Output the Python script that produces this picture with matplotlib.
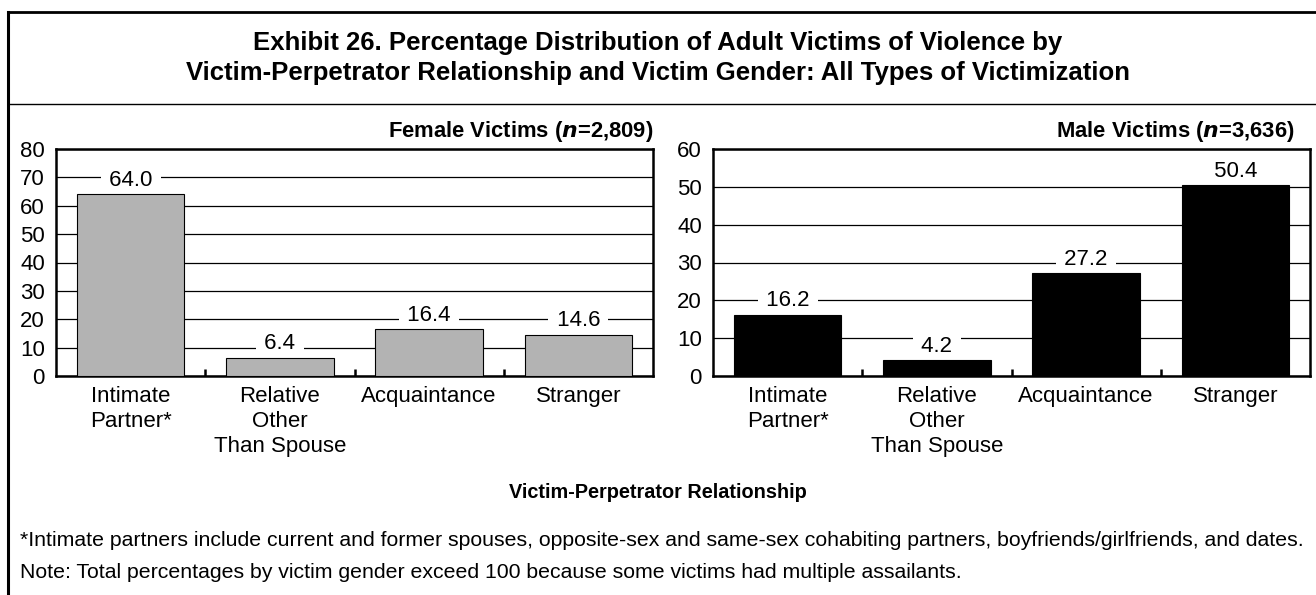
import matplotlib.pyplot as plt
from matplotlib.lines import Line2D

plt.rcParams['font.family'] = ['Liberation Sans', 'DejaVu Sans']

# Data
categories = ['Intimate\nPartner*', 'Relative\nOther\nThan Spouse', 'Acquaintance', 'Stranger']
female_values = [64.0, 6.4, 16.4, 14.6]
male_values = [16.2, 4.2, 27.2, 50.4]
female_ticks = [0, 10, 20, 30, 40, 50, 60, 70, 80]
male_ticks = [0, 10, 20, 30, 40, 50, 60]

W, H = 1316, 595
fig = plt.figure(figsize=(W / 100, H / 100), dpi=100)


def fx(px):
    return px / W


def fy(py):
    return 1 - py / H


# Outer frame: top border, left border, title separator
fig.add_artist(Line2D([fx(8), 1], [fy(12), fy(12)], color='black', lw=2))
fig.add_artist(Line2D([fx(8), fx(8)], [fy(12), 0], color='black', lw=2.2))
fig.add_artist(Line2D([fx(8), 1], [fy(104), fy(104)], color='black', lw=1))

fig.text(fx(658), fy(43), 'Exhibit 26. Percentage Distribution of Adult Victims of Violence by',
         ha='center', va='center', fontsize=18.5, fontweight='bold')
fig.text(fx(658), fy(73), 'Victim-Perpetrator Relationship and Victim Gender: All Types of Victimization',
         ha='center', va='center', fontsize=18.5, fontweight='bold')


def draw_panel(left_px, values, ticks, color, subtitle, sub_right_px):
    ax = fig.add_axes([fx(left_px), fy(376), fx(597), (376 - 149) / H])
    x = range(len(values))
    ax.bar(x, values, width=0.72, color=color, edgecolor='black', linewidth=0.8, zorder=3)
    ax.set_xlim(-0.5, len(values) - 0.5)
    ax.set_ylim(ticks[0], ticks[-1])
    ax.set_yticks(ticks)
    ax.yaxis.grid(True, color='black', linewidth=0.9, zorder=0)
    ax.set_axisbelow(True)
    ax.tick_params(axis='y', length=0, pad=8, labelsize=16)
    ax.set_xticks(list(x))
    ax.set_xticklabels(categories, fontsize=16, linespacing=1.25)
    ax.tick_params(axis='x', which='major', length=0, pad=7)
    ax.set_xticks([0.5, 1.5, 2.5], minor=True)
    ax.tick_params(axis='x', which='minor', direction='in', length=5, width=1.8)
    for s in ax.spines.values():
        s.set_linewidth(1.8)
    for i, v in enumerate(values):
        ax.annotate(f' {v:.1f} ', (i, v), xytext=(0, 2.5), textcoords='offset points',
                    ha='center', va='bottom', fontsize=16, zorder=2,
                    bbox=dict(boxstyle='square,pad=0.1', fc='white', ec='none'))
    fig.text(fx(sub_right_px), fy(131), subtitle, ha='right', va='center',
             fontsize=15.8, fontweight='bold')
    return ax


draw_panel(56, female_values, female_ticks, '#b3b3b3',
           r'Female Victims ($\boldsymbol{n}$=2,809)', 653)
draw_panel(713, male_values, male_ticks, 'black',
           r'Male Victims ($\boldsymbol{n}$=3,636)', 1295)

fig.text(fx(658), fy(493), 'Victim-Perpetrator Relationship', ha='center', va='center',
         fontsize=14.3, fontweight='bold')

fig.text(fx(20), fy(540), '*Intimate partners include current and former spouses, opposite-sex and '
         'same-sex cohabiting partners, boyfriends/girlfriends, and dates.',
         ha='left', va='center', fontsize=15.3)
fig.text(fx(20), fy(572), 'Note: Total percentages by victim gender exceed 100 because some victims '
         'had multiple assailants.', ha='left', va='center', fontsize=15.3)

fig.savefig('out.png', dpi=100)
